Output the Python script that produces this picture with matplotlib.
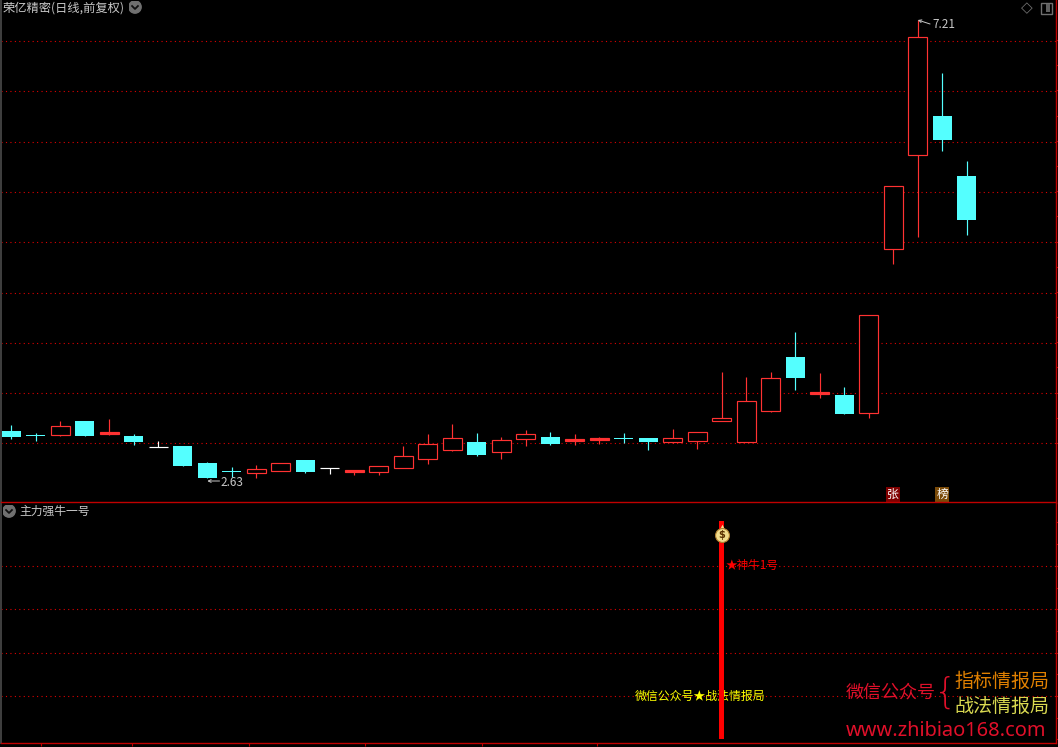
import matplotlib
matplotlib.use('Agg')
import matplotlib.pyplot as plt
import numpy as np

plt.rcParams['font.family'] = ['Noto Sans CJK SC', 'DejaVu Sans']

# Daily candles
opens = [3.10, 3.06, 3.06, 3.20, 3.07, 3.05, 2.94, 2.95, 2.78, 2.70,
         2.68, 2.70, 2.81, 2.73, 2.69, 2.69, 2.73, 2.82, 2.91, 2.99,
         2.89, 3.02, 3.04, 3.00, 3.01, 3.03, 3.03, 2.99, 3.00, 3.20,
         2.99, 3.30, 3.84, 3.47, 3.46, 3.28, 4.92, 5.86, 6.25, 5.65]
closes = [3.04, 3.05, 3.15, 3.05, 3.09, 2.99, 2.94, 2.75, 2.63, 2.69,
          2.72, 2.78, 2.69, 2.73, 2.71, 2.75, 2.85, 2.97, 3.03, 2.86,
          3.01, 3.07, 2.97, 3.02, 3.03, 3.02, 2.99, 3.03, 3.09, 3.23,
          3.40, 3.63, 3.63, 3.49, 3.27, 4.26, 5.55, 7.04, 6.01, 5.21]
highs = [3.16, 3.08, 3.20, 3.20, 3.22, 3.07, 3.00, 2.95, 2.79, 2.74,
         2.76, 2.78, 2.81, 2.73, 2.71, 2.75, 2.95, 3.07, 3.17, 3.08,
         3.04, 3.11, 3.09, 3.07, 3.04, 3.08, 3.03, 3.12, 3.09, 3.69,
         3.64, 3.69, 4.09, 3.68, 3.54, 4.26, 5.55, 7.21, 6.68, 5.80]
lows = [3.02, 3.00, 3.05, 3.05, 3.06, 2.96, 2.94, 2.75, 2.63, 2.64,
        2.63, 2.70, 2.68, 2.67, 2.66, 2.66, 2.73, 2.77, 2.90, 2.85,
        2.82, 2.95, 2.96, 2.96, 2.97, 2.98, 2.91, 2.98, 2.92, 3.20,
        2.99, 3.29, 3.51, 3.43, 3.27, 3.23, 4.77, 5.04, 5.90, 5.06]

price_grid = [7.00, 6.50, 5.99, 5.49, 4.99, 4.48, 3.98, 3.48, 2.98]
signal_grid = [0.2, 0.4, 0.6, 0.8]
date_ticks = [1.2, 4.93, 9.69, 14.43, 19.2, 23.9]

# Indicator pane: a single signal bar
signal_index = 29
signal_value = 1.0

RED = '#ff3232'
CYAN = '#54ffff'
BORDER = '#c00000'
GRID = '#e00000'
GREY = '#c8c8c8'

fig = plt.figure(figsize=(10.58, 7.47), dpi=100, facecolor='black')
W, H = 1058.0, 747.0

# Axes placed by pixel bounds of the two panes
ax = fig.add_axes([1 / W, (H - 502.5) / H, 1054.5 / W, 502.5 / H], facecolor='black')
ax2 = fig.add_axes([1 / W, (H - 743.3) / H, 1054.5 / W, 240.8 / H], facecolor='black')

for a in (ax, ax2):
    a.set_xlim(-0.42, 42.62)
    for side in ('top', 'right', 'bottom'):
        a.spines[side].set_color(BORDER)
        a.spines[side].set_linewidth(1.0)
    a.spines['left'].set_color('#404040')
    a.spines['left'].set_linewidth(1.4)
    a.set_xticks([])
ax.spines['top'].set_visible(False)

ax.set_ylim(2.385, 7.41)
ax2.set_ylim(-0.018, 1.092)

# Price pane
for g in price_grid:
    ax.axhline(g, color=GRID, lw=0.8, ls=(0, (1, 3)), zorder=1)
ax.yaxis.tick_right()
ax.set_yticks(np.arange(2.98, 7.2, 0.2518))
ax.set_yticklabels([])
ax.tick_params(axis='y', colors=BORDER, length=2.2, width=0.8)

for i in range(len(opens)):
    o, c = opens[i], closes[i]
    if c > o:
        # very short up days fill in solid
        col, face, edge = RED, RED if c - o < 0.025 else 'black', 0.85
    elif c < o:
        col, face, edge = CYAN, CYAN, 0
    else:
        col, face, edge = 'white', 'white', 0.85
    ax.vlines(i, lows[i], highs[i], color=col, lw=0.85, zorder=2)
    ax.bar(i, abs(c - o), bottom=min(o, c), width=0.76, facecolor=face, edgecolor=col,
           lw=edge, zorder=3)

# High and low marks
ax.annotate('', xy=(37, 7.21), xytext=(37.5, 7.17),
            arrowprops=dict(arrowstyle='->', color=GREY, lw=0.7, mutation_scale=5, shrinkA=0, shrinkB=0))
ax.text(37.6, 7.16, '7.21', color=GREY, fontsize=8.5, va='center', ha='left')
ax.annotate('', xy=(8, 2.60), xytext=(8.5, 2.60),
            arrowprops=dict(arrowstyle='->', color=GREY, lw=0.7, mutation_scale=5, shrinkA=0, shrinkB=0))
ax.text(8.55, 2.59, '2.63', color=GREY, fontsize=8.5, va='center', ha='left')

# 张 / 榜 tags
ax.text(36, 2.465, '张', color='white', fontsize=8.5, ha='center', va='center',
        bbox=dict(boxstyle='square,pad=0.1', fc='#800000', ec='none'))
ax.text(38, 2.465, '榜', color='white', fontsize=8.5, ha='center', va='center',
        bbox=dict(boxstyle='square,pad=0.1', fc='#7a4a08', ec='none'))

# Header texts, icons in figure pixels
fig.text(3 / W, 1 - 8 / H, '荣亿精密(日线,前复权)', color=GREY, fontsize=8.8, va='center', ha='left')
fig.text(19 / W, 1 - 511 / H, '主力强牛一号', color=GREY, fontsize=8.5, va='center', ha='left')


def chevron(px, py):
    axi = fig.add_axes([(px - 6.5) / W, 1 - (py + 6.5) / H, 13 / W, 13 / H])
    axi.set_xlim(-1, 1)
    axi.set_ylim(-1, 1)
    axi.axis('off')
    axi.add_patch(plt.Circle((0, 0), 0.95, color='#707070'))
    axi.plot([-0.45, 0, 0.45], [0.15, -0.3, 0.15], color='#101010', lw=1.3)


chevron(135, 7)
chevron(9, 511)

fig.text(1027 / W, 1 - 8 / H, '◇', color='#707070', fontsize=11, ha='center', va='center',
         family='DejaVu Sans')
fig.add_artist(plt.Rectangle((1040.5 / W, 1 - 13.5 / H), 11 / W, 10.5 / H, transform=fig.transFigure,
                             fc='black', ec='#707070', lw=1))
fig.add_artist(plt.Rectangle((1046 / W, 1 - 12 / H), 4 / W, 7.5 / H, transform=fig.transFigure,
                             fc='#606060', ec='none'))

# Indicator pane
for g in signal_grid:
    ax2.axhline(g, color=GRID, lw=0.8, ls=(0, (1, 3)), zorder=1)
ax2.yaxis.tick_right()
ax2.set_yticks(np.arange(0, 1.01, 0.1))
ax2.set_yticklabels([])
ax2.tick_params(axis='y', colors=BORDER, length=1.5, width=0.8)
ax2.set_xticks(date_ticks)
ax2.set_xticklabels([])
ax2.tick_params(axis='x', colors=BORDER, length=2.2, width=0.8)

ax2.text(signal_index - 3.55, 0.2, '微信公众号★战法情报局', color='#ffff00', fontsize=8.6,
         va='center', ha='left', zorder=2)
ax2.bar(signal_index, signal_value, width=0.2, color='#ff0000', zorder=3, antialiased=False)
ax2.text(signal_index + 0.17, 0.8, '★神牛1号', color='#ff0000', fontsize=8.4, va='center',
         ha='left', zorder=4)

# Money bag on top of the bar
ax2.scatter([signal_index], [0.975], s=30, c='#f0dc8c', marker='^', linewidths=0, zorder=5)
ax2.scatter([signal_index], [0.94], s=100, c='#f0dc8c', edgecolors='#b08030', linewidths=0.8, zorder=5)
ax2.text(signal_index, 0.94, '$', color='#5a3000', fontsize=7, weight='bold', ha='center',
         va='center', family='DejaVu Sans', zorder=6)
ax2.bar(signal_index, 0.012, bottom=0.995, width=0.2, color='#ff0000', zorder=6)

# Watermark
fig.text(846 / W, 1 - 693 / H, '微信公众号', color='#e0102a', fontsize=13.0, va='center', ha='left')
fig.text(945 / W, 1 - 693 / H, '{', color='#e0102a', fontsize=26, va='center', ha='center',
         family='DejaVu Sans', weight='ultralight')
fig.text(954 / W, 1 - 681 / H, '指标情报局', color='#e08000', fontsize=13.7, va='center', ha='left')
fig.text(954 / W, 1 - 706 / H, '战法情报局', color='#d8d850', fontsize=13.7, va='center', ha='left')
fig.text(846 / W, 1 - 731 / H, 'www.zhibiao168.com', color='#e0102a', fontsize=14.4, va='center',
         ha='left', family='Noto Sans')

fig.savefig('out.png', dpi=100, facecolor='black')
